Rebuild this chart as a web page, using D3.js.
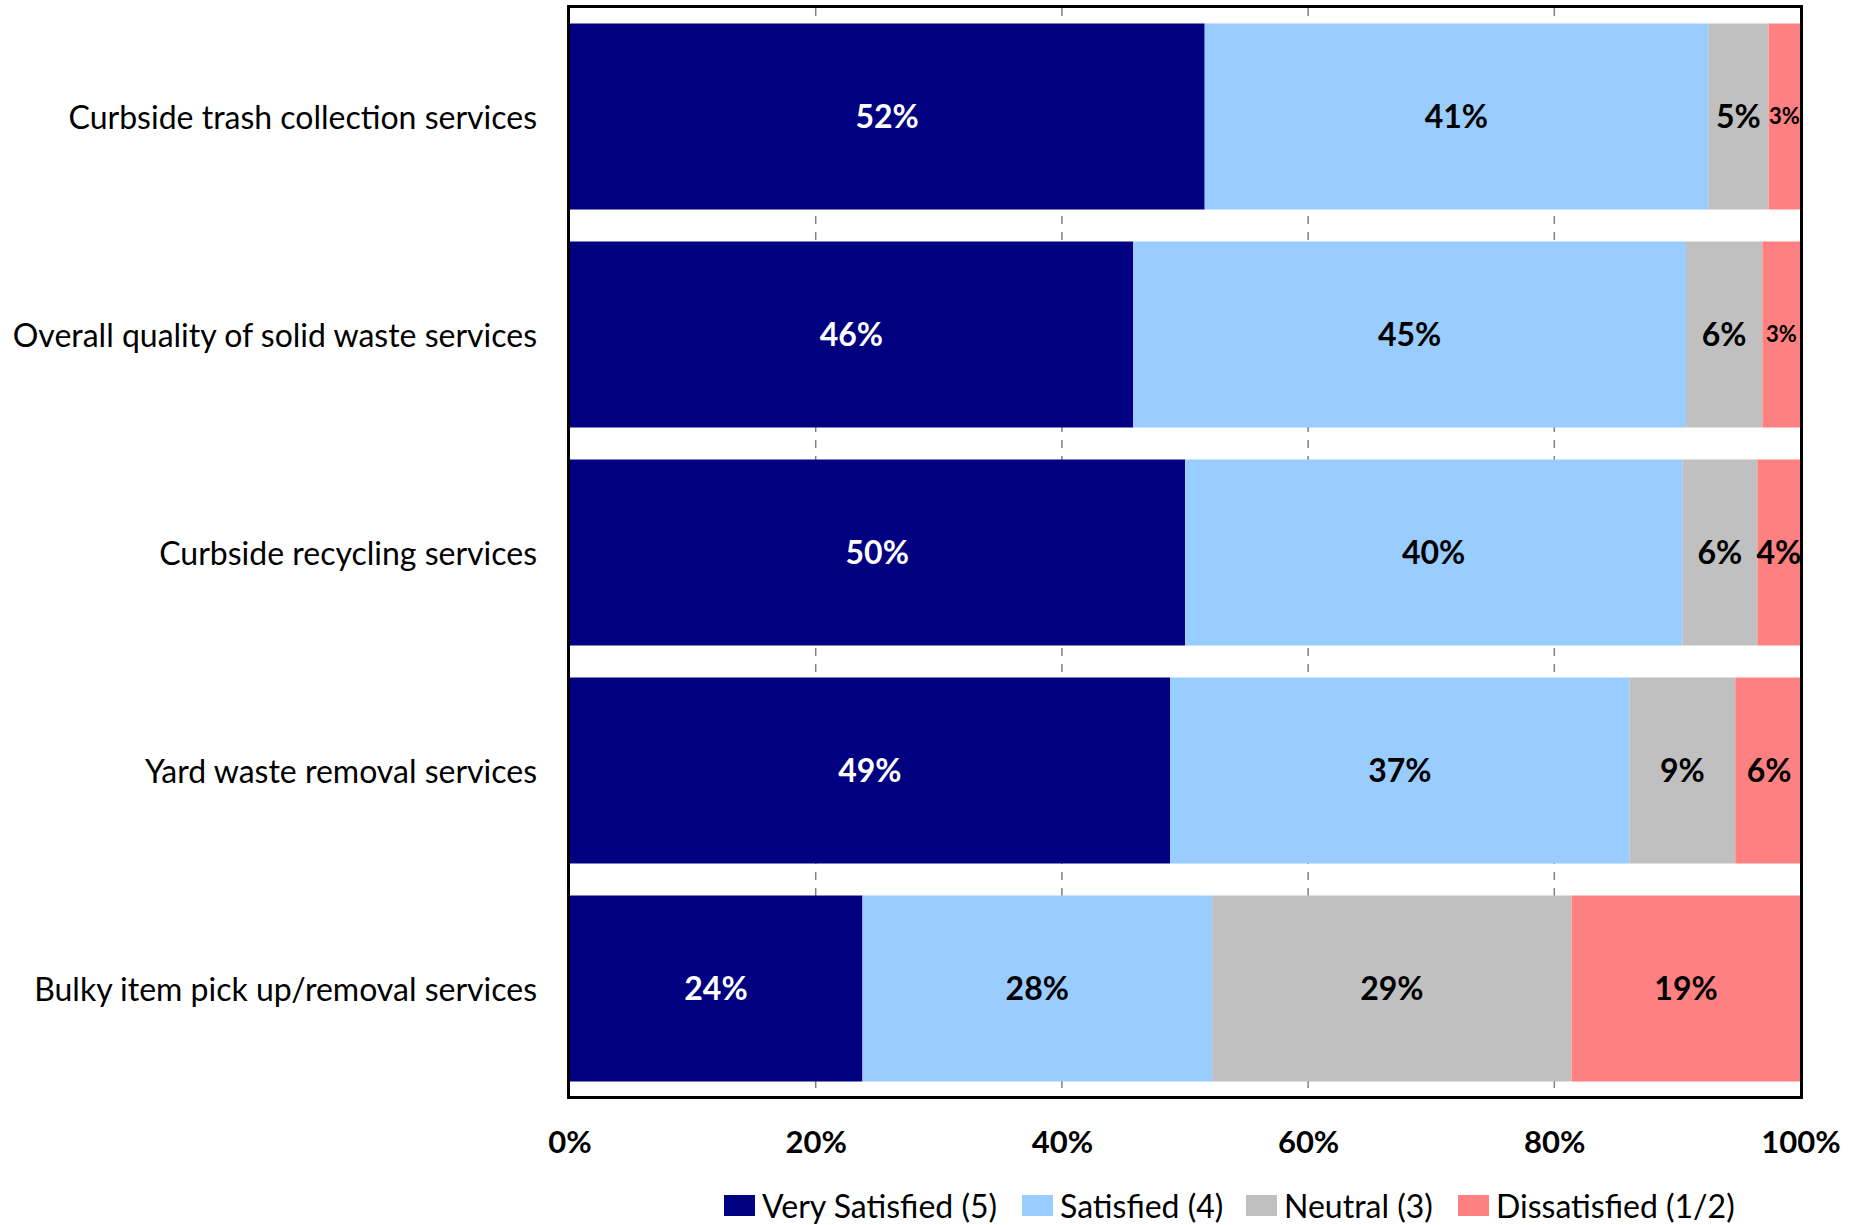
<!DOCTYPE html>
<html>
<head>
<meta charset="utf-8">
<script src="https://cdn.jsdelivr.net/npm/d3@7"></script>
<style>
  html, body { margin: 0; padding: 0; background: #fff; }
  svg { display: block; }
</style>
</head>
<body>
<svg id="chart" width="1868" height="1225"></svg>
<script>
const categories = [
  "Curbside trash collection services",
  "Overall quality of solid waste services",
  "Curbside recycling services",
  "Yard waste removal services",
  "Bulky item pick up/removal services"
];
const seriesNames = ["Very Satisfied (5)", "Satisfied (4)", "Neutral (3)", "Dissatisfied (1/2)"];
const verySatisfied = [51.6, 45.8, 50.0, 48.8, 23.8];
const satisfied     = [40.9, 44.9, 40.4, 37.3, 28.4];
const neutral       = [4.9, 6.2, 6.1, 8.6, 29.2];
const dissatisfied  = [2.6, 3.1, 3.5, 5.5, 18.6];
const xTicks = [0, 20, 40, 60, 80, 100];
const colors = ["#000080", "#99CCFF", "#C0C0C0", "#FF8080"];
const labelColors = ["#ffffff", "#000000", "#000000", "#000000"];

const seriesValues = [verySatisfied, satisfied, neutral, dissatisfied];
const rows = categories.map((c, i) => {
  const r = { category: c };
  seriesNames.forEach((s, j) => r[s] = seriesValues[j][i]);
  return r;
});

const svg = d3.select("#chart");
const FONT = "Lato, 'Open Sans', sans-serif";

const x = d3.scaleLinear().domain([0, 100]).range([569.5, 1800.5]);
const y = d3.scaleBand().domain(categories).range([8, 1097]).paddingInner(0.1468).paddingOuter(0.0711);

// gridlines
svg.append("g").selectAll("line").data(xTicks.slice(1, -1)).join("line")
  .attr("x1", d => x(d)).attr("x2", d => x(d))
  .attr("y1", 8).attr("y2", 1096)
  .attr("stroke", "#808080").attr("stroke-width", 1.5)
  .attr("stroke-dasharray", "8,8");

const stack = d3.stack().keys(seriesNames)(rows);

const layers = svg.append("g").selectAll("g").data(stack).join("g")
  .attr("fill", (d, i) => colors[i]);

layers.selectAll("rect").data(d => d).join("rect")
  .attr("x", d => x(d[0]))
  .attr("width", d => x(d[1]) - x(d[0]))
  .attr("y", d => y(d.data.category))
  .attr("height", y.bandwidth());

// bar labels
stack.forEach((layer, i) => {
  svg.append("g").selectAll("text").data(layer).join("text")
    .attr("x", d => (x(d[0]) + x(d[1])) / 2)
    .attr("y", d => y(d.data.category) + y.bandwidth() / 2)
    .attr("dy", "0.36em")
    .attr("text-anchor", "middle")
    .attr("font-family", FONT)
    .attr("font-weight", "bold")
    .attr("font-size", d => (d[1] - d[0]) < 3.2 ? 22 : 32)
    .attr("fill", labelColors[i])
    .text(d => Math.round(d[1] - d[0]) + "%");
});

// category labels
svg.append("g").selectAll("text").data(categories).join("text")
  .attr("x", 537)
  .attr("y", d => y(d) + y.bandwidth() / 2)
  .attr("dy", "0.38em")
  .attr("text-anchor", "end")
  .attr("font-family", FONT)
  .attr("font-size", 32)
  .attr("fill", "#000")
  .text(d => d);

// x axis labels
const xAxis = d3.axisBottom(x).tickValues(xTicks).tickFormat(d => d + "%").tickSize(0).tickPadding(0);
const gx = svg.append("g").attr("transform", "translate(0,1131)").call(xAxis);
gx.select(".domain").remove();
gx.selectAll("text")
  .attr("font-family", FONT).attr("font-weight", "bold").attr("font-size", 31)
  .attr("fill", "#000").attr("dy", "0.71em");

// frame
svg.append("rect")
  .attr("x", 568.5).attr("y", 6.5)
  .attr("width", 1801.5 - 568.5).attr("height", 1097.5 - 6.5)
  .attr("fill", "none").attr("stroke", "#000").attr("stroke-width", 3);

// legend
const legendX = [724, 1022, 1246, 1458];
const lg = svg.append("g").selectAll("g").data(seriesNames).join("g")
  .attr("transform", (d, i) => `translate(${legendX[i]},1195)`);
lg.append("rect").attr("width", 31).attr("height", 21).attr("fill", (d, i) => colors[i]);
lg.append("text").attr("x", 38).attr("y", 11).attr("dy", "0.38em")
  .attr("font-family", FONT).attr("font-size", 32).attr("fill", "#000")
  .text(d => d);
</script>
</body>
</html>
